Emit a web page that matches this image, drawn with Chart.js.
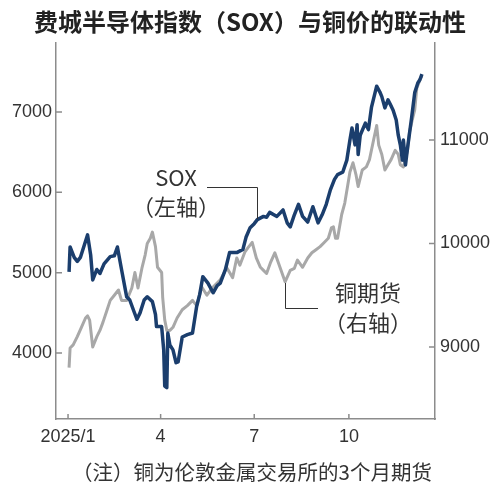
<!DOCTYPE html>
<html>
<head>
<meta charset="utf-8">
<script src="https://cdn.jsdelivr.net/npm/chart.js@4.4.1/dist/chart.umd.min.js"></script>
<style>
  html, body { margin: 0; padding: 0; background: #fff; }
  #chart { display: block; }
</style>
</head>
<body>
<canvas id="chart" width="500" height="494"></canvas>
<script>
// days counted from 2025/1/1
const xTickDays = [0, 90, 181, 273];
const xTickLabels = ['2025/1', '4', '7', '10'];
const soxTicks = [4000, 5000, 6000, 7000];
const copperTicks = [9000, 10000, 11000];

const soxDays = [1, 2, 6, 9, 12, 16, 19, 22, 24, 28, 31, 35, 41, 45, 48, 52, 57, 60, 64, 67,
  70, 74, 77, 82, 85, 86, 91, 93, 94, 96, 97, 99, 102, 105, 107, 111, 116, 121, 125, 128,
  131, 136, 141, 145, 148, 153, 157, 164, 170, 173, 177, 181, 184, 190, 193, 196, 203, 209, 213, 216,
  220, 224, 228, 233, 238, 243, 247, 251, 255, 259, 262, 267, 271, 274, 276, 279, 281, 282, 284, 289,
  292, 295, 300, 303, 305, 308, 311, 313, 316, 319, 321, 323, 325, 326, 328, 330, 334, 337, 340, 342, 344];
const soxValues = [5010, 5320, 5190, 5140, 5190, 5350, 5470, 5220, 4910, 5040, 4990, 5110, 5200, 5210, 5320, 5040, 4700, 4660, 4520, 4420,
  4500, 4660, 4700, 4640, 4480, 4330, 4330, 4040, 3590, 3570, 4250, 4100, 4040, 3880, 3890, 4200, 4230, 4250, 4580, 4730,
  4950, 4870, 4750, 4840, 4870, 5040, 5250, 5250, 5290, 5440, 5560, 5610, 5660, 5700, 5690, 5750, 5700, 5780, 5620, 5570,
  5720, 5850, 5700, 5630, 5820, 5620, 5720, 5850, 6030, 6160, 6220, 6250, 6400, 6650, 6800, 6590, 6840, 6470, 6710, 6860,
  6780, 7060, 7320, 7250, 7190, 7050, 7150, 7100, 7020, 6900, 6710, 6590, 6400, 6650, 6340, 6550, 6930, 7240, 7360, 7400, 7470];

const copperDays = [1, 2, 5, 9, 13, 17, 19, 21, 24, 28, 31, 34, 38, 41, 45, 49, 52, 57, 62, 65,
  68, 72, 75, 77, 80, 82, 85, 87, 91, 92, 94, 96, 99, 102, 106, 111, 116, 121, 125, 130,
  135, 141, 148, 152, 154, 160, 164, 167, 172, 175, 179, 183, 187, 190, 193, 197, 201, 206, 211, 216,
  220, 223, 228, 233, 237, 241, 245, 249, 253, 256, 258, 260, 262, 266, 269, 272, 274, 277, 280, 282,
  286, 290, 293, 297, 300, 302, 305, 308, 311, 314, 318, 321, 323, 326, 330, 332, 335, 337, 339, 342, 344];
const copperValues = [8800, 8990, 9020, 9100, 9190, 9280, 9300, 9260, 9000, 9100, 9160, 9240, 9360, 9450, 9500, 9550, 9450, 9450, 9570, 9720,
  9570, 9770, 9890, 10000, 10050, 10110, 9970, 9770, 9720, 9480, 9260, 9160, 9160, 9190, 9280, 9360, 9400, 9450, 9400, 9580,
  9500, 9580, 9650, 9720, 9770, 9670, 9860, 9790, 9920, 9960, 10010, 9860, 9770, 9740, 9710, 9820, 9910, 9770, 9630, 9740,
  9760, 9840, 9770, 9860, 9910, 9940, 9970, 10010, 10050, 10150, 10160, 10050, 10050, 10280, 10390, 10570, 10690, 10780, 10660, 10550,
  10710, 10740, 10810, 11000, 11140, 10950, 10860, 10710, 10760, 10810, 10900, 10860, 10760, 10740, 10900, 11080, 11210, 11290, 11500, 11580, 11620];

const navy = '#1b3e6d';
const grey = '#a8a8a8';
const axisColor = '#8c8c8c';
const textColor = '#333';
const cjk = '"Noto Sans CJK SC", "Noto Sans", sans-serif';
const num = '"Liberation Sans", Arial, sans-serif';

const toPoints = (days, vals) => days.map((d, i) => ({ x: d, y: vals[i] }));

const textPlugin = {
  id: 'texts',
  afterDraw(chart) {
    const { ctx, chartArea: a, scales } = chart;
    ctx.save();
    // inward tick marks
    ctx.strokeStyle = axisColor;
    ctx.lineWidth = 1.5;
    ctx.beginPath();
    xTickDays.forEach(d => {
      const x = scales.x.getPixelForValue(d);
      ctx.moveTo(x, a.bottom); ctx.lineTo(x, a.bottom - 5);
    });
    soxTicks.forEach(v => {
      const y = scales.ySox.getPixelForValue(v);
      ctx.moveTo(a.left, y); ctx.lineTo(a.left + 6, y);
    });
    copperTicks.forEach(v => {
      const y = scales.yCopper.getPixelForValue(v);
      ctx.moveTo(a.right - 6, y); ctx.lineTo(a.right, y);
    });
    ctx.stroke();

    // leader lines
    ctx.strokeStyle = '#333';
    ctx.lineWidth = 1;
    ctx.beginPath();
    ctx.moveTo(207, 187.5); ctx.lineTo(257.5, 187.5); ctx.lineTo(257.5, 219);
    ctx.moveTo(285.5, 283); ctx.lineTo(285.5, 308.5); ctx.lineTo(318, 308.5);
    ctx.stroke();

    ctx.fillStyle = '#222';
    ctx.textAlign = 'center';
    ctx.textBaseline = 'middle';
    ctx.font = 'bold 24px ' + cjk;
    ctx.fillText('费城半导体指数（SOX）与铜价的联动性', 250, 22);

    ctx.fillStyle = textColor;
    ctx.font = '22px ' + cjk;
    ctx.fillText('SOX', 176, 178);
    ctx.fillText('（左轴）', 176, 207);
    ctx.fillText('铜期货', 368, 293);
    ctx.fillText('（右轴）', 368, 323);

    ctx.font = '20.5px ' + cjk;
    ctx.fillText('（注）铜为伦敦金属交易所的3个月期货', 252, 472);
    ctx.restore();
  }
};

new Chart(document.getElementById('chart'), {
  type: 'line',
  data: {
    datasets: [
      {
        label: 'SOX',
        data: toPoints(soxDays, soxValues),
        yAxisID: 'ySox',
        borderColor: navy,
        borderWidth: 3.5,
        pointRadius: 0,
        tension: 0,
        borderJoinStyle: 'round'
      },
      {
        label: '铜期货',
        data: toPoints(copperDays, copperValues),
        yAxisID: 'yCopper',
        borderColor: grey,
        borderWidth: 3,
        pointRadius: 0,
        tension: 0,
        borderJoinStyle: 'round'
      }
    ]
  },
  options: {
    responsive: false,
    animation: false,
    layout: { padding: { top: 43 } },
    plugins: {
      legend: { display: false },
      tooltip: { enabled: false }
    },
    scales: {
      x: {
        type: 'linear',
        min: -11.7,
        max: 356.7,
        afterBuildTicks: s => { s.ticks = xTickDays.map(v => ({ value: v })); },
        afterFit: s => { s.height = 75; },
        grid: { display: false, drawTicks: false },
        border: { display: true, color: axisColor, width: 1.5 },
        ticks: {
          autoSkip: false,
          maxRotation: 0,
          padding: 7,
          color: textColor,
          font: { family: num, size: 18 },
          callback: v => xTickLabels[xTickDays.indexOf(v)]
        }
      },
      ySox: {
        type: 'linear',
        position: 'left',
        min: 3180,
        max: 7857,
        afterBuildTicks: s => { s.ticks = soxTicks.map(v => ({ value: v })); },
        afterFit: s => { s.width = 56; },
        grid: { display: false, drawTicks: false },
        border: { display: true, color: axisColor, width: 1.5 },
        ticks: { padding: 4, color: textColor, font: { family: num, size: 18 }, callback: v => String(v) }
      },
      yCopper: {
        type: 'linear',
        position: 'right',
        min: 8304,
        max: 11937,
        afterBuildTicks: s => { s.ticks = copperTicks.map(v => ({ value: v })); },
        afterFit: s => { s.width = 65; },
        grid: { display: false, drawTicks: false },
        border: { display: true, color: axisColor, width: 1.5 },
        ticks: { padding: 5, color: textColor, font: { family: num, size: 18 }, callback: v => String(v) }
      }
    }
  },
  plugins: [textPlugin]
});
</script>
</body>
</html>
